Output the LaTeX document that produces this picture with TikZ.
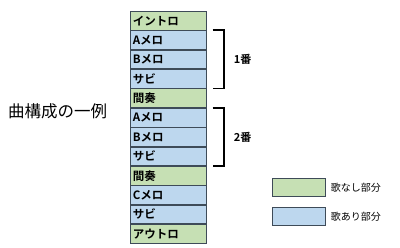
\documentclass[tikz,border=0pt]{standalone}
\usepackage{fontspec}
\usetikzlibrary{calc}
\newfontfamily\jp{Noto Sans CJK JP}
\newfontfamily\jpb{Noto Sans CJK JP Bold}
\newcommand\cellfont{\jpb\fontsize{11.5}{12}\selectfont}
\newcommand\brkfont{\jpb\fontsize{11}{12}\selectfont}
\newcommand\legfont{\jp\fontsize{10}{11}\selectfont}
\definecolor{nogreen}{HTML}{C6E0B4}
\definecolor{yesblue}{HTML}{BDD7EE}
\definecolor{cellline}{HTML}{3E4B58}
\tikzset{
  cell/.style={draw=cellline,line width=0.7pt,minimum width=76pt,minimum height=18.67pt,inner xsep=2.5pt,inner ysep=0pt,anchor=north west,text width=71pt,align=left},
  nosong/.style={cell,fill=nogreen},
  song/.style={cell,fill=yesblue},
  brk/.style={line width=1.8pt,black},
  brklab/.style={anchor=west,inner sep=0pt},
  legbox/.style={draw=cellline,line width=0.7pt,minimum width=53pt,minimum height=18pt,inner sep=0pt,anchor=north west},
  lab/.style={anchor=west,inner sep=0pt}}
\begin{document}
\begin{tikzpicture}[x=1pt,y=-1pt]
\useasboundingbox (0,0) rectangle (400,247);
\node[nosong] (r1) at (130,11) {\cellfont イントロ};
\node[song] (r2) at (r1.south west) {\cellfont Aメロ};
\node[song] (r3) at (r2.south west) {\cellfont Bメロ};
\node[song] (r4) at (r3.south west) {\cellfont サビ};
\node[nosong] (r5) at (r4.south west) {\cellfont 間奏};
\node[song] (r6) at (r5.south west) {\cellfont Aメロ};
\node[song] (r7) at (r6.south west) {\cellfont Bメロ};
\node[song] (r8) at (r7.south west) {\cellfont サビ};
\node[nosong] (r9) at (r8.south west) {\cellfont 間奏};
\node[song] (r10) at (r9.south west) {\cellfont Cメロ};
\node[song] (r11) at (r10.south west) {\cellfont サビ};
\node[nosong] (r12) at (r11.south west) {\cellfont アウトロ};
% brackets
\coordinate (b1t) at ([xshift=6pt]r2.north east);
\coordinate (b1b) at ([xshift=6pt]r4.south east);
\draw[brk] (b1t) -- ++(11,0) |- (b1b);
\node[brklab] (n1) at ([xshift=21pt]$(b1t)!0.5!(b1b)$) {\brkfont 1番};
\coordinate (b2t) at ([xshift=6pt]r6.north east);
\coordinate (b2b) at ([xshift=6pt]r8.south east);
\draw[brk] (b2t) -- ++(11,0) |- (b2b);
\node[brklab] (n2) at ([xshift=21pt]$(b2t)!0.5!(b2b)$) {\brkfont 2番};
% title
\node[anchor=west,inner sep=0pt] (title) at (8,111) {\jp\fontsize{16.5}{18}\selectfont 曲構成の一例};
% legend
\node[legbox,fill=nogreen] (lg) at (272,178) {};
\node[legbox,fill=yesblue] (lb) at (272,207) {};
\node[lab] (lgt) at ([xshift=5pt]lg.east) {\legfont 歌なし部分};
\node[lab] (lbt) at ([xshift=5pt]lb.east) {\legfont 歌あり部分};
\end{tikzpicture}
\end{document}
